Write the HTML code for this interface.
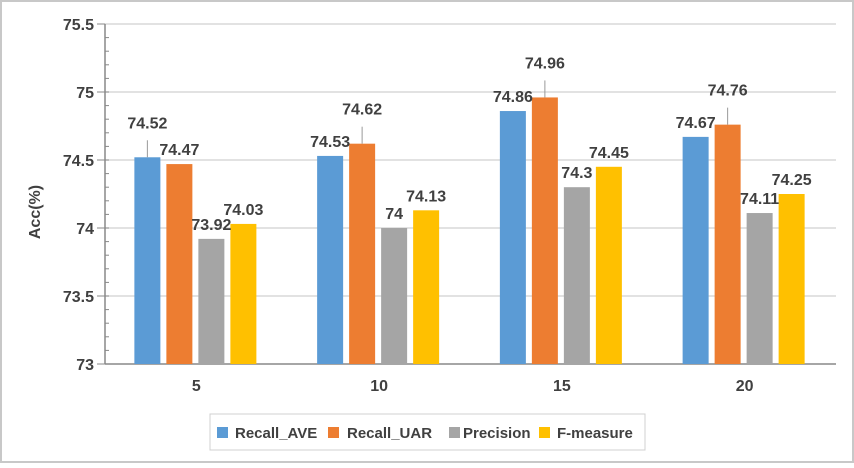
<!DOCTYPE html>
<html><head><meta charset="utf-8"><style>
body{margin:0;background:#fff}
svg text{font-family:"Liberation Sans",sans-serif;font-weight:bold;fill:#404040}
</style></head><body>
<svg id="c" width="854" height="463" xmlns="http://www.w3.org/2000/svg">
<rect x="1" y="1" width="852" height="461" fill="#fff" stroke="#c8c8c8" stroke-width="2"/>
<g id="grid"></g><g id="axis"></g><g id="bars"></g><g id="labels"></g>
<text x="40" y="212" font-size="16" text-anchor="middle" transform="rotate(-90 40 212)" fill="#595959">Acc(%)</text>
<g>
<rect x="210" y="414" width="435" height="36" fill="#fff" stroke="#d0d0d0"/>
<rect x="217" y="427" width="11" height="11" fill="#5b9bd5"/>
<text x="235" y="438" font-size="15">Recall_AVE</text>
<rect x="328" y="427" width="11" height="11" fill="#ed7d31"/>
<text x="347" y="438" font-size="15">Recall_UAR</text>
<rect x="449" y="427" width="11" height="11" fill="#a5a5a5"/>
<text x="463" y="438" font-size="15">Precision</text>
<rect x="539" y="427" width="11" height="11" fill="#ffc000"/>
<text x="557" y="438" font-size="15">F-measure</text>
</g>
</svg>
<script>
const categories=["5","10","15","20"];
const recallAVE=[74.52,74.53,74.86,74.67];
const recallUAR=[74.47,74.62,74.96,74.76];
const precision=[73.92,74,74.3,74.11];
const fMeasure=[74.03,74.13,74.45,74.25];
const yTicks=[73,73.5,74,74.5,75,75.5];
const series=[recallAVE,recallUAR,precision,fMeasure];
const colors=["#5b9bd5","#ed7d31","#a5a5a5","#ffc000"];
const snames=["recall-ave","recall-uar","precision","f-measure"];
const leaders=[[0,0],[1,1],[2,1],[3,1]];
const NS="http://www.w3.org/2000/svg";
const x0=105,x1=836,yMin=73,yMax=75.5,yTop=24,yBot=364;
const y=v=>yBot-(v-yMin)/(yMax-yMin)*(yBot-yTop);
const gw=(x1-x0)/categories.length;
const bw=26,gap=6;
const bx=(c,s)=>x0+gw*c+gw/2-(4*bw+3*gap)/2+s*(bw+gap)-1;
function mk(tag,at,parent,txt){const e=document.createElementNS(NS,tag);for(const k in at)e.setAttribute(k,at[k]);if(txt!==undefined)e.textContent=txt;document.getElementById(parent).appendChild(e);return e;}
yTicks.forEach(t=>{
 const g=mk('line',{x1:x0,x2:x1,y1:y(t),y2:y(t),stroke:t===yMin?'#888':'#d0d0d0','stroke-width':t===yMin?1.5:1.2},'grid');
 
 
 const tk=mk('line',{x1:x0-8,x2:x0,y1:y(t),y2:y(t),stroke:'#888'},'axis');
 
 
 const l=mk('text',{x:x0-11,y:y(t)+6,'font-size':16,'text-anchor':'end',fill:'#595959'},'axis',String(t));
 
 
});
for(let v=yMin;v<yMax-1e-6;v+=0.1){const m=mk('line',{x1:x0,x2:x0+4,y1:y(v),y2:y(v),stroke:'#888'},'axis');
 
 }
const ax=mk('line',{x1:x0,x2:x0,y1:yTop,y2:yBot,stroke:'#888','stroke-width':1.5},'axis');


categories.forEach((c,ci)=>{
 const t=mk('text',{x:x0+gw*ci+gw/2,y:391,'font-size':16,'text-anchor':'middle',fill:'#595959'},'axis',c);
 
 
 series.forEach((s,si)=>{
  const v=s[ci],X=bx(ci,si),top=y(v);
  const r=mk('rect',{x:X,y:top,width:bw,height:yBot-top,fill:colors[si]},'bars');
  
  
  const hasL=leaders.some(p=>p[0]===ci&&p[1]===si);
  const ly=hasL?top-29:top-9;
  if(hasL){const ln=mk('line',{x1:X+bw/2,x2:X+bw/2,y1:top,y2:top-17,stroke:'#999'},'labels');
   
   }
  const tl=mk('text',{x:X+bw/2,y:ly,'font-size':16,'text-anchor':'middle'},'labels',String(v));
  
  
 });
});
</script>
</body></html>
